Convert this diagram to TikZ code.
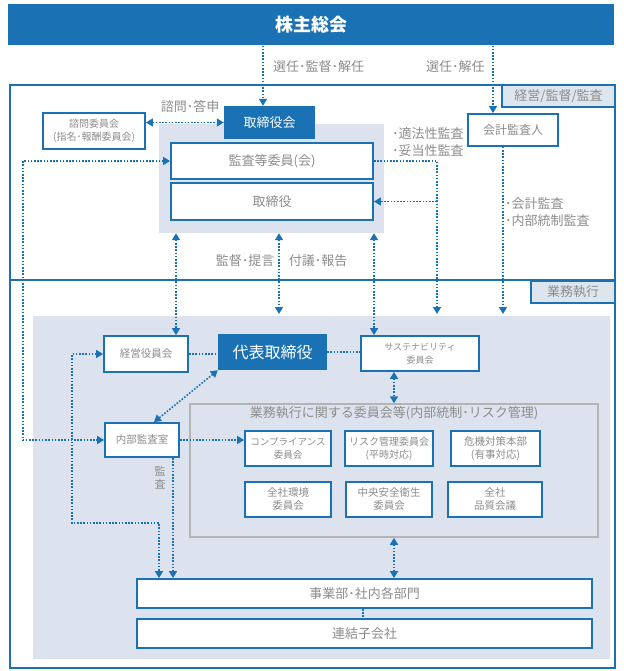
\documentclass[tikz,border=0pt]{standalone}
\usepackage{fontspec}
\setmainfont{Noto Sans CJK JP}
\usetikzlibrary{arrows.meta}

\definecolor{corpblue}{HTML}{1A72B5}
\definecolor{labelgray}{HTML}{8C8C8C}
\definecolor{panelfill}{HTML}{DCE3EE}
\definecolor{tabfill}{HTML}{DDE6EE}
\definecolor{framegray}{HTML}{B4B4B4}

\begin{document}
\begin{tikzpicture}[x=1pt,y=-1pt,
    box/.style={draw=corpblue,line width=1.8pt,fill=white,text=labelgray,align=center,inner sep=0pt,font=\fontsize{10.5}{13}\selectfont},
    darkbox/.style={fill=corpblue,text=white,align=center,inner sep=0pt},
    panel/.style={fill=panelfill,inner sep=0pt},
    tabbox/.style={draw=corpblue,line width=1.2pt,fill=tabfill,text=labelgray,inner sep=0pt,font=\fontsize{13}{15}\selectfont},
    link/.style={corpblue,line width=1.6pt,dash pattern=on 1.6pt off 1.6pt},
    arr/.style={-{Triangle[length=7pt,width=8pt]}},
    darr/.style={{Triangle[length=7pt,width=8pt]}-{Triangle[length=7pt,width=8pt]}},
    lbl/.style={text=labelgray,inner sep=0pt,font=\fontsize{13}{17}\selectfont}]

    \useasboundingbox (0,0) rectangle (623,671);

    % Draw the background panels
    \node[panel,minimum width=225pt,minimum height=109pt] (torikai) at (271.5,178.5) {};
    \node[panel,minimum width=577pt,minimum height=343pt] (gyomu) at (321.5,487.5) {};

    % Draw the two frames and their tabs
    \draw[corpblue,line width=1.5pt] (10,85) rectangle (615,280);
    \draw[corpblue,line width=1.5pt] (10,280) rectangle (615,668);
    \node[tabbox,minimum width=113pt,minimum height=22pt] (tabkeiei) at (558.5,96) {経営/監督/監査};
    \node[tabbox,minimum width=84pt,minimum height=22pt] (tabgyomu) at (573,292) {業務執行};

    % Draw the shareholders bar
    \node[darkbox,minimum width=606pt,minimum height=41pt,font=\fontsize{18}{20}\selectfont\bfseries] (kabunushi) at (311,25) {株主総会};

    % Draw the board part
    \node[darkbox,minimum width=91pt,minimum height=33pt,font=\fontsize{13}{15}\selectfont] (torishimariyakukai) at (269.5,122.5) {取締役会};
    \node[box,minimum width=102pt,minimum height=36pt,font=\fontsize{10}{13}\selectfont] (shimon) at (94,131) {諮問委員会\\(指名･報酬委員会)};
    \node[box,minimum width=202pt,minimum height=36pt,font=\fontsize{13}{15}\selectfont] (kansa) at (272,161) {監査等委員(会)};
    \node[box,minimum width=202pt,minimum height=37pt,font=\fontsize{13}{15}\selectfont] (torishimariyaku) at (272,201.5) {取締役};
    \node[box,minimum width=90pt,minimum height=32pt,font=\fontsize{12}{14}\selectfont] (kaikei) at (513,130) {会計監査人};

    % Draw the execution part
    \node[box,minimum width=84pt,minimum height=36pt] (keiei) at (146,354) {経営役員会};
    \node[darkbox,minimum width=109pt,minimum height=36pt,font=\fontsize{16}{18}\selectfont] (daihyo) at (272.5,352) {代表取締役};
    \node[box,minimum width=118pt,minimum height=35pt,font=\fontsize{9}{13}\selectfont] (sustain) at (420,353.5) {サステナビリティ\\委員会};
    \node[box,minimum width=74pt,minimum height=34pt] (naibu) at (142,440) {内部監査室};

    % Draw the committees
    \node[draw=framegray,line width=1.5pt,inner sep=0pt,minimum width=408pt,minimum height=133pt] (iinkai) at (394,470.5) {};
    \node[lbl] (iinkaititle) at (394,413) {業務執行に関する委員会等(内部統制･リスク管理)};
    \node[box,minimum width=86pt,minimum height=35pt,font=\fontsize{9.5}{13}\selectfont] (comp) at (288,448.5) {コンプライアンス\\委員会};
    \node[box,minimum width=88pt,minimum height=35pt,font=\fontsize{10}{13}\selectfont] (risk) at (389,448.5) {リスク管理委員会\\(平時対応)};
    \node[box,minimum width=89pt,minimum height=35pt] (kiki) at (495.5,448.5) {危機対策本部\\(有事対応)};
    \node[box,minimum width=86pt,minimum height=35pt] (kankyo) at (288,499.5) {全社環境\\委員会};
    \node[box,minimum width=86pt,minimum height=35pt] (anzen) at (389,499.5) {中央安全衛生\\委員会};
    \node[box,minimum width=94pt,minimum height=35pt] (hinshitsu) at (495,499.5) {全社\\品質会議};

    % Draw the divisions
    \node[box,minimum width=455pt,minimum height=29pt,font=\fontsize{13}{15}\selectfont] (jigyo) at (364.5,593.5) {事業部･社内各部門};
    \node[box,minimum width=455pt,minimum height=29pt,font=\fontsize{13}{15}\selectfont] (renketsu) at (364.5,633.5) {連結子会社};

    % Draw the connectors
    \draw[link,arr] (kabunushi.south -| 263,0) -- ([xshift=-6.5pt]torishimariyakukai.north);
    \draw[link,arr] (kabunushi.south -| 493,0) -- ([xshift=-20pt]kaikei.north);
    \draw[link,darr] (shimon.east |- torishimariyakukai.west) -- (torishimariyakukai.west);
    \draw[link,darr] (kansa.west) -- (kansa.west -| 23,0) |- (naibu.west);
    \coordinate (tekiho) at (437,314);
    \draw[link,arr] (kansa.east) -| (tekiho);
    \draw[link,arr] (tekiho |- torishimariyaku.east) -- (torishimariyaku.east);
    \coordinate (kaikeiend) at (503,314);
    \draw[link,arr] (kaikei.south -| kaikeiend) -- (kaikeiend);
    \draw[link,darr] (torikai.south -| 176,0) -- (keiei.north -| 176,0);
    \draw[link,darr] (torikai.south -| 279,0) -- (279,314);
    \draw[link,darr] (torikai.south -| 374,0) -- (sustain.north -| 374,0);
    \draw[link] (keiei.east) -- (keiei.east -| daihyo.west);
    \draw[link] (daihyo.east) -- (daihyo.east -| sustain.west);
    \draw[link,darr] (daihyo.south west) -- ([xshift=12pt]naibu.north);
    \draw[link,darr] (iinkai.north |- sustain.south) -- (iinkai.north);
    \draw[link,darr] (iinkai.south) -- (iinkai.south |- jigyo.north);
    \draw[link] (jigyo.south -| 363,0) -- (renketsu.north -| 363,0);
    \draw[link,arr] (naibu.east) -- (naibu.east -| comp.west);
    \draw[link,arr] ([xshift=31pt]naibu.south) -- ([xshift=31pt]naibu.south |- jigyo.north);
    \draw[link,darr] (keiei.west) -| (72,523) -| (jigyo.north -| 159,0);

    % Draw the labels
    \node[lbl,anchor=west] (l1) at (273,67) {選任･監督･解任};
    \node[lbl,anchor=west] (l2) at (426,67) {選任･解任};
    \node[lbl] (l3) at (190,106) {諮問･答申};
    \node[lbl,anchor=north west,align=left] (l4) at (392,127) {･適法性監査\\･妥当性監査};
    \node[lbl,anchor=north west,align=left] (l5) at (505,197) {･会計監査\\･内部統制監査};
    \node[lbl] (l6) at (245,261) {監督･提言};
    \node[lbl] (l7) at (318,261) {付議･報告};
    \node[lbl,align=center,font=\fontsize{11}{13}\selectfont] (l8) at (160,478) {監\\査};

\end{tikzpicture}
\end{document}
